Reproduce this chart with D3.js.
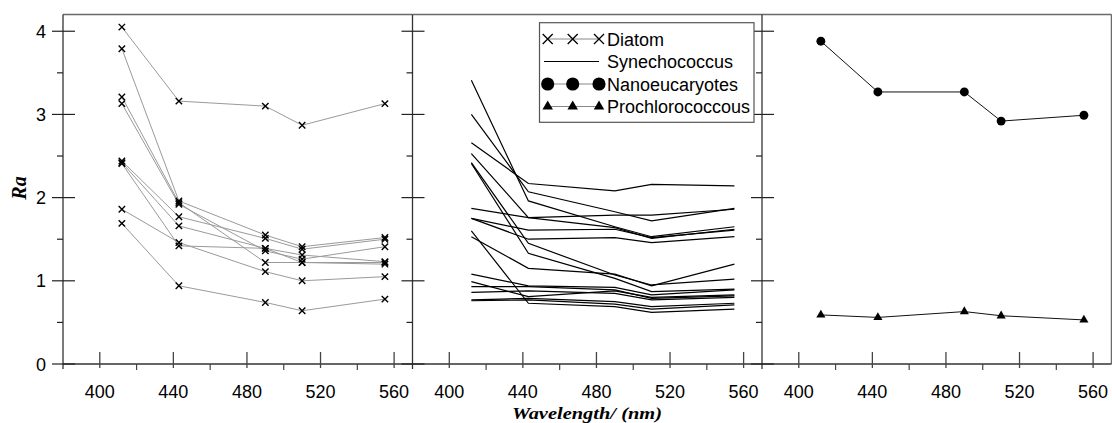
<!DOCTYPE html>
<html>
<head>
<meta charset="utf-8">
<script src="https://cdn.jsdelivr.net/npm/d3@7"></script>
<style>
body{margin:0;background:#fff;}
text{font-family:"Liberation Sans",Arial,sans-serif;fill:#000;}
.title{font-family:"Liberation Serif","Times New Roman",serif;font-weight:bold;font-style:italic;}
</style>
</head>
<body>
<div id="chart"></div>
<script>
// wavelengths (nm) shared by every series
var wavelengths = [412, 443, 490, 510, 555];
var xTicks = [400, 440, 480, 520, 560];
var xMinor = [420, 460, 500, 540];
var yTicks = [0, 1, 2, 3, 4];
var yMinor = [0.5, 1.5, 2.5, 3.5];

var diatom = [
  [4.05, 3.16, 3.10, 2.87, 3.13],
  [3.79, 1.96, 1.55, 1.41, 1.52],
  [3.21, 1.94, 1.22, 1.22, 1.22],
  [3.13, 1.92, 1.36, 1.26, 1.41],
  [2.44, 1.77, 1.51, 1.38, 1.50],
  [2.42, 1.66, 1.39, 1.31, 1.23],
  [2.41, 1.42, 1.39, 1.22, 1.20],
  [1.86, 1.46, 1.11, 1.00, 1.05],
  [1.69, 0.94, 0.74, 0.64, 0.78]
];

var synechococcus = [
  [3.41, 1.96, 1.65, 1.53, 1.65],
  [3.00, 2.07, 1.83, 1.72, 1.87],
  [2.66, 2.17, 2.08, 2.16, 2.14],
  [2.53, 1.76, 1.64, 1.51, 1.62],
  [1.87, 1.76, 1.79, 1.79, 1.86],
  [1.75, 1.61, 1.62, 1.52, 1.61],
  [1.75, 1.50, 1.52, 1.46, 1.53],
  [2.42, 1.45, 1.07, 0.95, 1.02],
  [2.41, 1.33, 1.03, 0.87, 0.90],
  [1.53, 1.15, 1.08, 0.94, 1.20],
  [1.60, 0.73, 0.69, 0.62, 0.66],
  [1.08, 0.94, 0.92, 0.83, 0.89],
  [0.99, 0.81, 0.88, 0.80, 0.83],
  [0.93, 0.93, 0.89, 0.79, 0.82],
  [0.86, 0.88, 0.85, 0.77, 0.80],
  [0.77, 0.79, 0.75, 0.69, 0.73],
  [0.76, 0.77, 0.72, 0.66, 0.71]
];

var nanoeucaryotes = [3.88, 3.27, 3.27, 2.92, 2.99];
var prochlorococcous = [0.59, 0.56, 0.63, 0.58, 0.53];

var legendNames = ["Diatom", "Synechococcus", "Nanoeucaryotes", "Prochlorococcous"];

var width = 1112, height = 423;
var panelX = [63, 412.5, 762], panelW = 349.5;

var svg = d3.select("#chart").append("svg")
  .attr("width", width)
  .attr("height", height);

var y = d3.scaleLinear().domain([0, 4.2]).range([364, 14.6]);

function pts(vals){
  return vals.map(function(v, i){ return [wavelengths[i], v]; });
}

var crossPath = function(s){ return "M"+(-s)+","+(-s)+"L"+s+","+s+"M"+(-s)+","+s+"L"+s+","+(-s); };

panelX.forEach(function(px, p){
  var x = d3.scaleLinear().domain([380, 570]).range([px, px + panelW]);
  var g = svg.append("g");

  // frame
  g.append("line").attr("x1", px).attr("x2", px + panelW)
    .attr("y1", y.range()[1]).attr("y2", y.range()[1])
    .attr("stroke", "#6a6a6a").attr("stroke-width", 1.5);
  if (p == 2) {
    g.append("line").attr("x1", px + panelW).attr("x2", px + panelW)
      .attr("y1", y.range()[1]).attr("y2", y(0))
      .attr("stroke", "#6a6a6a").attr("stroke-width", 1.5);
  }
  g.append("line").attr("x1", px).attr("x2", px)
    .attr("y1", y.range()[1]).attr("y2", y(0) + 5)
    .attr("stroke", "#333").attr("stroke-width", 1.3);
  g.append("line").attr("x1", px).attr("x2", px + panelW)
    .attr("y1", y(0)).attr("y2", y(0))
    .attr("stroke", "#333").attr("stroke-width", 1.3);

  // y ticks
  g.selectAll(".ymaj").data(yTicks).enter().append("line")
    .attr("x1", px - 11).attr("x2", px + 12)
    .attr("y1", function(d){ return y(d); }).attr("y2", function(d){ return y(d); })
    .attr("stroke", "#222").attr("stroke-width", 1.2);
  g.selectAll(".ymin").data(yMinor).enter().append("line")
    .attr("x1", px - 6).attr("x2", px)
    .attr("y1", function(d){ return y(d); }).attr("y2", function(d){ return y(d); })
    .attr("stroke", "#222").attr("stroke-width", 1.2);
  if (p == 0) {
    g.selectAll(".ylab").data(yTicks).enter().append("text")
      .attr("x", px - 17).attr("y", function(d){ return y(d) + 6.5; })
      .attr("text-anchor", "end").style("font-size", "18px")
      .text(function(d){ return d; });
  }

  // x ticks
  g.selectAll(".xmaj").data(xTicks).enter().append("line")
    .attr("x1", function(d){ return x(d); }).attr("x2", function(d){ return x(d); })
    .attr("y1", y(0) - 12).attr("y2", y(0) + 4)
    .attr("stroke", "#444").attr("stroke-width", 1.3);
  g.selectAll(".xmin").data(xMinor).enter().append("line")
    .attr("x1", function(d){ return x(d); }).attr("x2", function(d){ return x(d); })
    .attr("y1", y(0)).attr("y2", y(0) + 6)
    .attr("stroke", "#444").attr("stroke-width", 1.2);
  g.selectAll(".xlab").data(xTicks).enter().append("text")
    .attr("x", function(d){ return x(d); }).attr("y", 398)
    .attr("text-anchor", "middle").style("font-size", "18px")
    .text(function(d){ return d; });

  var line = d3.line().x(function(d){ return x(d[0]); }).y(function(d){ return y(d[1]); });

  if (p == 0) {
    diatom.forEach(function(s){
      g.append("path").attr("d", line(pts(s)))
        .attr("fill", "none").attr("stroke", "#9a9a9a").attr("stroke-width", 1);
    });
    diatom.forEach(function(s){
      g.selectAll(null).data(pts(s)).enter().append("path")
        .attr("transform", function(d){ return "translate(" + x(d[0]) + "," + y(d[1]) + ")"; })
        .attr("d", crossPath(3.2))
        .attr("stroke", "#000").attr("stroke-width", 1.4).attr("fill", "none");
    });
  } else if (p == 1) {
    synechococcus.forEach(function(s){
      g.append("path").attr("d", line(pts(s)))
        .attr("fill", "none").attr("stroke", "#000").attr("stroke-width", 1.2);
    });
  } else {
    [nanoeucaryotes, prochlorococcous].forEach(function(s, k){
      g.append("path").attr("d", line(pts(s)))
        .attr("fill", "none").attr("stroke", "#111").attr("stroke-width", 1);
      g.selectAll(null).data(pts(s)).enter().append("path")
        .attr("transform", function(d){ return "translate(" + x(d[0]) + "," + y(d[1]) + ")"; })
        .attr("d", k == 0 ? d3.symbol(d3.symbolCircle, 62)() : d3.symbol(d3.symbolTriangle, 36)())
        .attr("fill", "#000");
    });
  }
});

// legend
var lg = svg.append("g");
lg.append("rect").attr("x", 539.5).attr("y", 22.7).attr("width", 214.5).attr("height", 99.6)
  .attr("fill", "#fff").attr("stroke", "#555").attr("stroke-width", 1.2);
var rowY = [39, 61.5, 84, 106.5];
var mk = [547.7, 572.7, 599];
legendNames.forEach(function(name, i){
  var ly = rowY[i];
  lg.append("line").attr("x1", i == 1 ? 544 : 547.7).attr("x2", 599).attr("y1", ly).attr("y2", ly)
    .attr("stroke", i == 1 ? "#000" : "#888").attr("stroke-width", 1);
  if (i != 1) {
    mk.forEach(function(mx){
      var sym = lg.append("path").attr("transform", "translate(" + mx + "," + ly + ")");
      if (i == 0) sym.attr("d", crossPath(5)).attr("stroke", "#000").attr("stroke-width", 1.3).attr("fill", "none");
      if (i == 2) sym.attr("d", d3.symbol(d3.symbolCircle, 135)()).attr("fill", "#000");
      if (i == 3) sym.attr("d", d3.symbol(d3.symbolTriangle, 48)()).attr("fill", "#000");
    });
  }
  lg.append("text").attr("x", 607).attr("y", ly + 6.5)
    .style("font-size", "18px").text(name);
});

// axis titles
svg.append("text").attr("class", "title")
  .attr("transform", "translate(26,188) rotate(-90)")
  .attr("text-anchor", "middle").style("font-size", "20px")
  .text("Ra");
svg.append("text").attr("class", "title")
  .attr("x", 587).attr("y", 419)
  .attr("text-anchor", "middle").style("font-size", "17.5px")
  .attr("textLength", 150).attr("lengthAdjust", "spacingAndGlyphs")
  .text("Wavelength/ (nm)");
</script>
</body>
</html>
